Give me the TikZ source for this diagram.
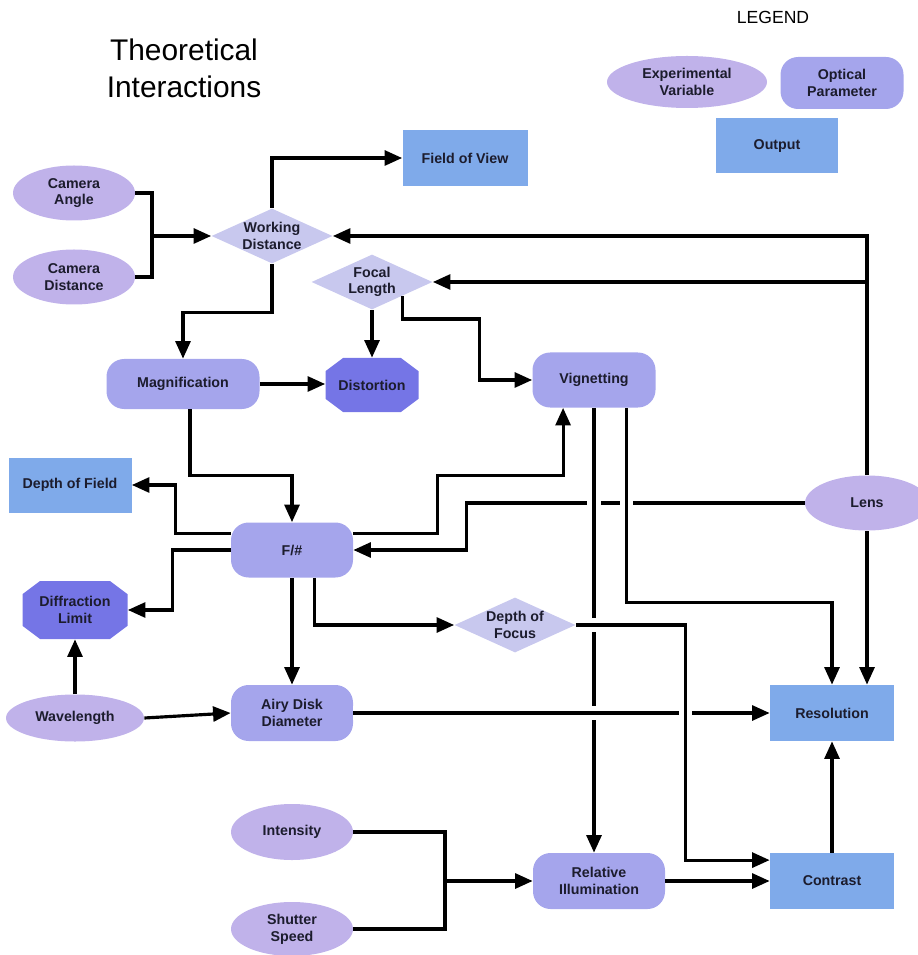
\documentclass[tikz,border=0pt]{standalone}
\usepackage{fontspec}
\setmainfont{Liberation Sans}
\usetikzlibrary{calc,arrows.meta,shapes.geometric}

\definecolor{varcol}{RGB}{192,178,234}
\definecolor{parcol}{RGB}{165,165,236}
\definecolor{outcol}{RGB}{127,170,234}
\definecolor{diacol}{RGB}{200,200,238}
\definecolor{octcol}{RGB}{117,117,230}
\definecolor{txtcol}{RGB}{28,28,45}

\tikzset{
  box/.style={inner sep=0pt, align=center, text=txtcol, font=\bfseries\fontsize{8.1}{9.5}\selectfont},
  dim/.style 2 args={minimum width=#1*0.02cm, minimum height=#2*0.02cm},
  varnode/.style={box, ellipse, fill=varcol},
  parnode/.style={box, rectangle, rounded corners=10pt, fill=parcol},
  outnode/.style={box, rectangle, fill=outcol},
  dianode/.style={box, diamond, aspect=2.2, inner sep=-3pt, fill=diacol},
  octnode/.style={box, rectangle, path picture={
    \fill[octcol] ([xshift=10pt]path picture bounding box.north west) -- ([xshift=-10pt]path picture bounding box.north east)
      -- ([yshift=-7.5pt]path picture bounding box.north east) -- ([yshift=7.5pt]path picture bounding box.south east)
      -- ([xshift=-10pt]path picture bounding box.south east) -- ([xshift=10pt]path picture bounding box.south west)
      -- ([yshift=7.5pt]path picture bounding box.south west) -- ([yshift=-7.5pt]path picture bounding box.north west) -- cycle;}},
  wire/.style={line width=1.8pt},
  arr/.style={line width=1.8pt, -{Triangle[length=10pt,width=8.5pt]}},
  over/.style={preaction={draw=white, line width=7.5pt, -}}
}

\begin{document}
\begin{tikzpicture}[x=0.02cm, y=-0.02cm]

\useasboundingbox (0,0) rectangle (917,955);

\node[align=center, font=\fontsize{17}{21}\selectfont] (TTL) at (184,68) {Theoretical\\Interactions};

\node[font=\fontsize{10}{12}\selectfont] (LEG) at (773,17) {LEGEND};
\node[varnode, dim={160}{52}] (EV) at (687,82) {Experimental\\Variable};
\node[parnode, dim={123}{52}] (OP) at (842,83) {Optical\\Parameter};
\node[outnode, dim={122}{55}] (OUT) at (777,146) {Output};

\node[varnode, dim={122}{55}] (CA) at (74,193) {Camera\\Angle};
\node[varnode, dim={122}{55}] (CD) at (74,277) {Camera\\Distance};
\node[dianode, dim={121}{55}] (WD) at (272,236) {Working\\Distance};
\node[outnode, dim={125}{56}] (FOV) at (465,158) {Field of View};
\node[dianode, dim={121}{55}] (FL) at (372,282) {Focal\\Length};
\node[parnode, dim={153}{50}] (MAG) at (183,384) {Magnification};
\node[octnode, dim={93}{54}] (DIS) at (372,385) {Distortion};
\node[parnode, dim={123}{55}] (VIG) at (594,380) {Vignetting};
\node[outnode, dim={123}{55}] (DOF) at (70,485) {Depth of Field};
\node[parnode, dim={122}{55}] (FN) at (292,550) {F/\#};
\node[varnode, dim={124}{55}] (LENS) at (867,503) {Lens};
\node[octnode, dim={105}{58}] (DL) at (75,610) {Diffraction\\Limit};
\node[dianode, dim={121}{55}] (DFO) at (515,625) {Depth of\\Focus};
\node[varnode, dim={138}{47}] (WL) at (75,718) {Wavelength};
\node[parnode, dim={122}{56}] (AIRY) at (292,713) {Airy Disk\\Diameter};
\node[outnode, dim={124}{56}] (RES) at (832,713) {Resolution};
\node[varnode, dim={122}{56}] (INT) at (292,832) {Intensity};
\node[varnode, dim={122}{54}] (SS) at (292,929) {Shutter\\Speed};
\node[parnode, dim={132}{56}] (RI) at (599,881) {Relative\\Illumination};
\node[outnode, dim={124}{56}] (CON) at (832,881) {Contrast};

\coordinate (J1) at (152,236);
\coordinate (J2) at (445,881);

\draw[wire] (CA.east) -| (J1) |- (CD.east);
\draw[arr] (J1) -- (WD.west);
\draw[arr] (WD.north) |- (FOV.west);
\draw[arr] (WD.south) -- ++(0,49) -| (MAG.north);
\draw[arr] (LENS.north) |- (WD.east);
\draw[arr] (LENS.north |- FL.east) -- (FL.east);
\draw[arr] (FL.south) -- (DIS.north);
\draw[arr] (FL.south east) -- ++(0,23) -- ++(77,0) |- (VIG.west);
\draw[arr] (MAG.east) -- (MAG.east -| DIS.west);
\draw[arr] ([xshift=4pt]MAG.south) -- ++(0,66) -| (FN.north);

\draw[arr] ([yshift=9.6pt]FN.west) -- ++(-55,0) |- (DOF.east);
\draw[arr] (FN.west) -- ++(-58,0) |- (DL.east);
\draw[arr] (FN.south) -- (AIRY.north);
\draw[arr] ([xshift=13pt]FN.south) |- (DFO.west);
\draw[arr] ([yshift=9.6pt]FN.east) -- ++(84,0) -- ++(0,-58) -| ([xshift=-17.6pt]VIG.south);
\draw[arr] (LENS.west) -- ++(-338,0) |- (FN.east);
\draw[arr] (LENS.south) -- (LENS.south |- RES.north);

\draw[arr,over] (VIG.south) -- (VIG.south |- RI.north);
\draw[arr,over] ([xshift=18.7pt]VIG.south) -- ++(0,195) -| (RES.north);
\draw[arr,over] (AIRY.east) -- (RES.west);
\draw[arr,over] (DFO.east) -- ++(110,0) |- ([yshift=11.9pt]CON.west);

\draw[arr] (RI.east) -- (CON.west);
\draw[arr] (CON.north) -- (RES.south);
\draw[wire] (INT.east) -| (J2) |- (SS.east);
\draw[arr] (J2) -- (RI.west);
\draw[arr] (WL.east) -- (AIRY.west);
\draw[arr] (WL.north) -- (DL.south);

\end{tikzpicture}
\end{document}
